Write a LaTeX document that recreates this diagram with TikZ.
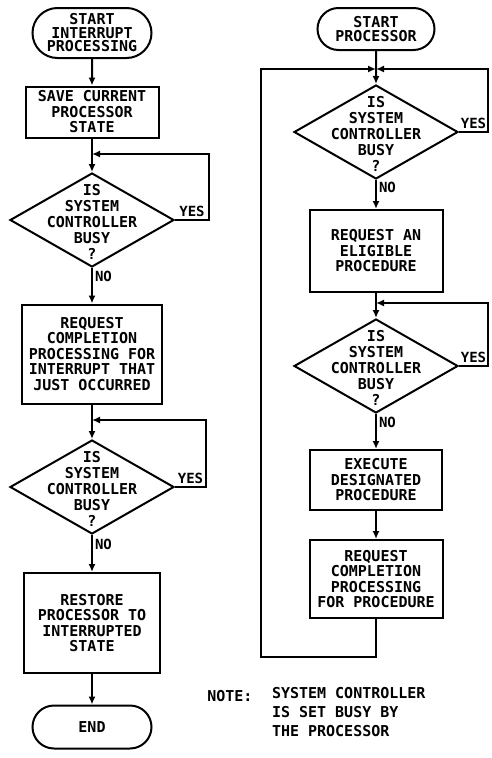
\documentclass[tikz,border=0pt]{standalone}
\usepackage{fontspec}
\setmonofont{DejaVu Sans Mono}
\usetikzlibrary{shapes.geometric, shapes.misc, arrows.meta}

\begin{document}
\begin{tikzpicture}[x=1pt, y=-1pt, line width=2pt, >={Latex[length=8pt,width=7pt]},
    every node/.style={font=\ttfamily\bfseries\fontsize{15}{15.5}\selectfont, align=center},
    term/.style={draw, rounded rectangle, inner sep=0pt, font=\ttfamily\bfseries\fontsize{15}{13.5}\selectfont},
    box/.style={draw, rectangle, inner sep=0pt},
    decision/.style={draw, diamond, minimum width=164pt, minimum height=94pt, inner sep=0pt},
    query/.style={label={[yshift=-2pt, font=\ttfamily\bfseries\fontsize{15}{16}\selectfont]center:{IS\\SYSTEM\\CONTROLLER\\BUSY\\?}}},
    tag/.style={inner sep=2pt, font=\ttfamily\bfseries\fontsize{14}{14}\selectfont}]
    \useasboundingbox (0,0) rectangle (491,758);

    % interrupt processing
    \node [term, minimum width=119pt, minimum height=50pt] (start1) at (92,33) {START\\INTERRUPT\\PROCESSING};
    \node [box, minimum width=133pt, minimum height=51pt] (save) at (92,112) {SAVE CURRENT\\PROCESSOR\\STATE};
    \node [decision, query] (busy1) at (92,220) {};
    \node [box, minimum width=140pt, minimum height=99pt] (reqint) at (92,354) {REQUEST\\COMPLETION\\PROCESSING FOR\\INTERRUPT THAT\\JUST OCCURRED};
    \node [decision, query] (busy2) at (92,487) {};
    \node [box, minimum width=136pt, minimum height=100pt] (restore) at (92,623) {RESTORE\\PROCESSOR TO\\INTERRUPTED\\STATE};
    \node [term, minimum width=119pt, minimum height=43pt] (end) at (92,727) {END};
    \coordinate (j1) at (92,154);
    \coordinate (j2) at (92,420);

    \draw [->] (start1) -- (save);
    \draw [->] (save) -- (busy1);
    \draw [->] (busy1.east) -- node [tag, above] {YES} ++(34,0) |- (j1);
    \draw [->] (busy1) -- node [tag, right, near start] {NO} (reqint);
    \draw [->] (reqint) -- (busy2);
    \draw [->] (busy2.east) -- node [tag, above] {YES} ++(31,0) |- (j2);
    \draw [->] (busy2) -- node [tag, right, near start] {NO} (restore);
    \draw [->] (restore) -- (end);

    % processor
    \node [term, minimum width=117pt, minimum height=42pt] (start2) at (376,29) {START\\PROCESSOR};
    \node [decision, query] (busy3) at (376,132) {};
    \node [box, minimum width=133pt, minimum height=82pt] (elig) at (376,251) {REQUEST AN\\ELIGIBLE\\PROCEDURE};
    \node [decision, query] (busy4) at (376,366) {};
    \node [box, minimum width=132pt, minimum height=60pt] (exec) at (376,480) {EXECUTE\\DESIGNATED\\PROCEDURE};
    \node [box, minimum width=133pt, minimum height=78pt] (reqproc) at (376,579) {REQUEST\\COMPLETION\\PROCESSING\\FOR PROCEDURE};
    \coordinate (j3) at (376,69);
    \coordinate (j4) at (376,303);

    \draw [->] (start2) -- (busy3);
    \draw [->] (busy3.east) -- node [tag, above] {YES} ++(29,0) |- (j3);
    \draw [->] (busy3) -- node [tag, right, near start] {NO} (elig);
    \draw [->] (elig) -- (busy4);
    \draw [->] (busy4.east) -- node [tag, above] {YES} ++(29,0) |- (j4);
    \draw [->] (busy4) -- node [tag, right, near start] {NO} (exec);
    \draw [->] (exec) -- (reqproc);
    \draw [->] (reqproc.south) |- (261,657) -- (261,69) -- (j3);

    \node [anchor=west] (notelbl) at (203,696) {NOTE:};
    \node [anchor=north west, align=left, inner sep=0pt, font=\ttfamily\bfseries\fontsize{15}{19}\selectfont] (note) at (271,686) {SYSTEM CONTROLLER\\IS SET BUSY BY\\THE PROCESSOR};
\end{tikzpicture}
\end{document}
